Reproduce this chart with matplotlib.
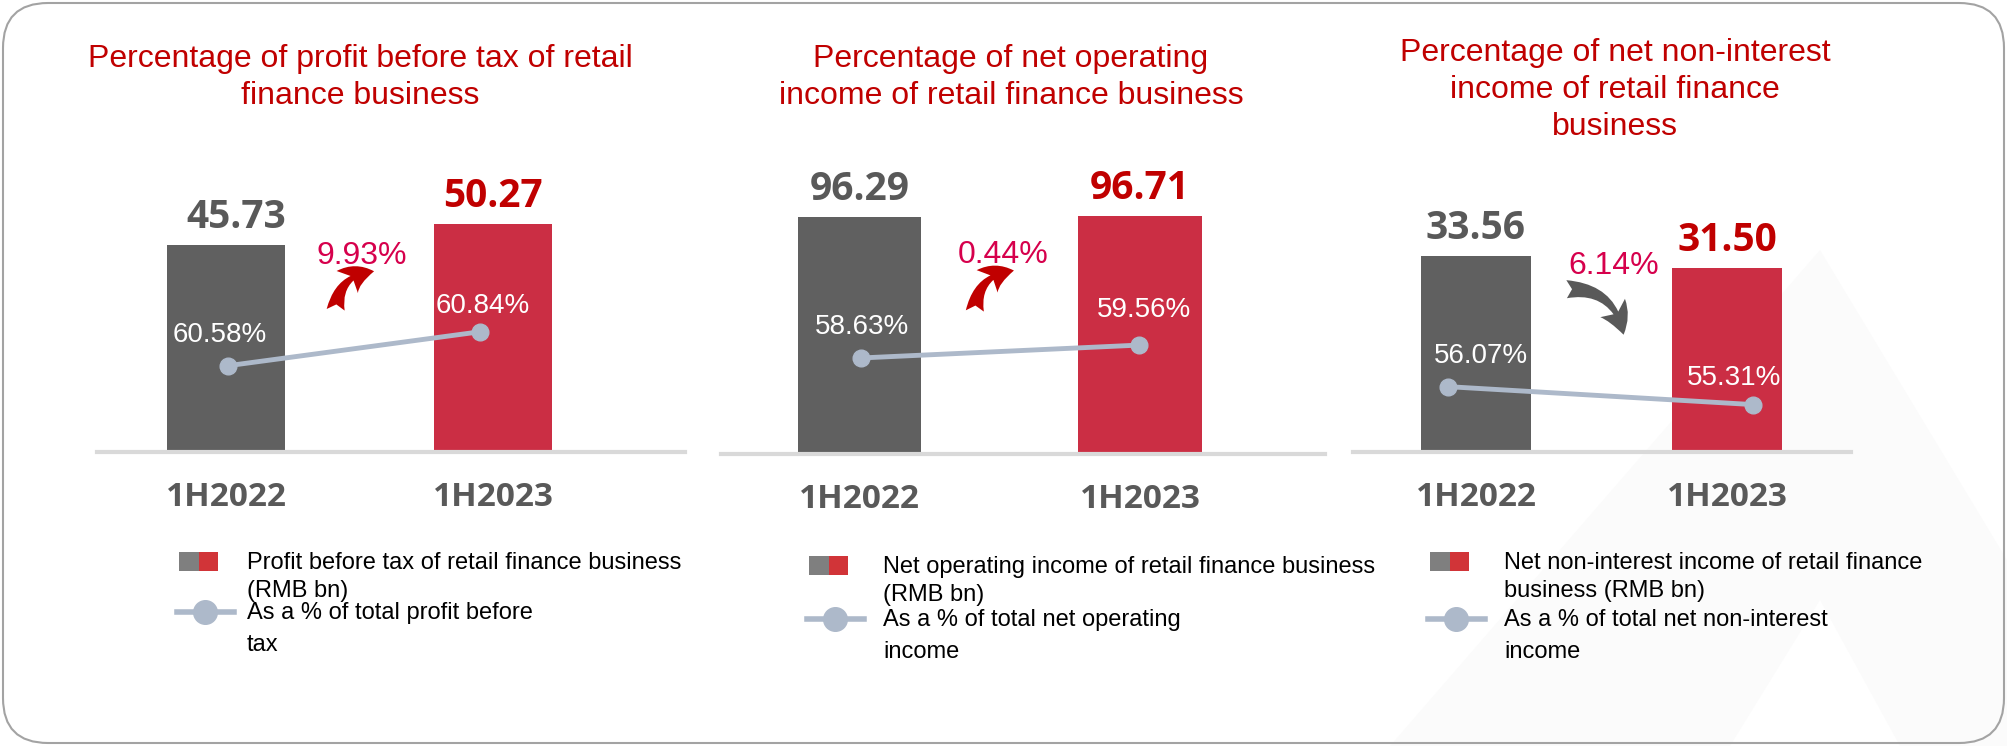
import matplotlib.pyplot as plt
import matplotlib.transforms as mtransforms
from matplotlib.patches import FancyBboxPatch, Rectangle, FancyArrowPatch, Polygon

plt.rcParams['font.family'] = ['Liberation Sans', 'DejaVu Sans']

periods = ['1H2022', '1H2023']

titles = [
    'Percentage of profit before tax of retail\nfinance business',
    'Percentage of net operating\nincome of retail finance business',
    'Percentage of net non-interest\nincome of retail finance\nbusiness',
]
amounts = [
    [45.73, 50.27],   # profit before tax, RMB bn
    [96.29, 96.71],   # net operating income, RMB bn
    [33.56, 31.50],   # net non-interest income, RMB bn
]
shares = [
    [60.58, 60.84],
    [58.63, 59.56],
    [56.07, 55.31],
]
bar_labels = [
    'Profit before tax of retail finance business\n(RMB bn)',
    'Net operating income of retail finance business\n(RMB bn)',
    'Net non-interest income of retail finance\nbusiness (RMB bn)',
]
line_labels = [
    'As a % of total profit before\ntax',
    'As a % of total net operating\nincome',
    'As a % of total net non-interest\nincome',
]

W, H = 2007, 746
GRAY, RED = '#606060', '#CB2E44'
LINE = '#ADB9CA'

# per-panel placement (pixels) and axis scaling
layout = [
    dict(x0=97, x1=685, base=452, xlim=(-0.483, 1.719), ylim=73.2,
         slim=(59.92, 62.46), lx=[0.007, 0.952], vdx=10,
         off=[(-8, 31), (3, 26)], gx=0.51, gy=0.59,
         arrow=((0.41, 0.42), (0.565, 0.545)), title=(360, 44),
         leg=(179, 247, 561, 614)),
    dict(x0=721, x1=1325, base=454, xlim=(-0.496, 1.661), ylim=135.7,
         slim=(51.70, 75.80), lx=[0.005, 0.998], vdx=0,
         off=[(1, 31), (5, 35)], gx=0.51, gy=0.596,
         arrow=((0.41, 0.42), (0.56, 0.55)), title=(1011, 44),
         leg=(809, 883, 565, 621)),
    dict(x0=1353, x1=1851, base=452, xlim=(-0.49, 1.494), ylim=56.9,
         slim=(53.30, 67.37), lx=[-0.112, 1.102], vdx=0,
         off=[(33, 31), (-19, 27)], gx=0.55, gy=0.56,
         arrow=((0.35, 0.49), (0.59, 0.345)), title=(1615, 38),
         leg=(1430, 1504, 561, 621)),
]
TOP = 120

fig = plt.figure(figsize=(W / 100, H / 100), dpi=100)

# background layer in pixel units: frame, faint watermark, titles, legends
bg = fig.add_axes([0, 0, 1, 1])
bg.set_xlim(0, W)
bg.set_ylim(H, 0)
bg.axis('off')
bg.add_patch(Polygon([[1390, 746], [1820, 250], [2007, 560], [2007, 746], [1900, 746],
                      [1820, 600], [1730, 746]], closed=True, color='#FBFBFB', lw=0))
bg.add_patch(FancyBboxPatch((3, 3), W - 6, H - 6, boxstyle='round,pad=0,rounding_size=45',
                            fc='none', ec='#A3A3A3', lw=1.5))

for i, lay in enumerate(layout):
    left = lay['x0'] / W
    width = (lay['x1'] - lay['x0']) / W
    bottom = 1 - lay['base'] / H
    height = (lay['base'] - TOP) / H
    ax = fig.add_axes([left, bottom, width, height])
    ax.patch.set_alpha(0)
    ax.set_xlim(*lay['xlim'])
    ax.set_ylim(0, lay['ylim'])
    for s in ax.spines.values():
        s.set_visible(False)
    ax.set_yticks([])
    ax.set_xticks([0, 1], periods)
    ax.tick_params(axis='x', length=0, pad=21, labelsize=24, labelcolor='#595959')
    for t in ax.get_xticklabels():
        t.set_fontfamily('Open Sans')
        t.set_fontweight('bold')

    vals = amounts[i]
    ax.bar([0, 1], vals, width=0.44, color=[GRAY, RED], zorder=2)
    ax.axhline(0, color='#D9D9D9', lw=3, zorder=3, clip_on=False)
    for k, v in enumerate(vals):
        ax.annotate(f'{v:.2f}', (k, v), xytext=(lay['vdx'] if k == 0 else 0, 8),
                    textcoords='offset pixels',
                    ha='center', va='bottom', fontsize=28, fontweight='bold',
                    family='Open Sans', color='#595959' if k == 0 else '#C00000')

    # year-on-year change between the two bars
    chg = (vals[1] / vals[0] - 1) * 100
    blend = mtransforms.blended_transform_factory(ax.transData, ax.transAxes)
    ax.text(lay['gx'], lay['gy'], f'{abs(chg):.2f}%', transform=blend,
            ha='center', va='center', fontsize=23, color='#D6004C')
    (ax0, ay0), (ax1, ay1) = lay['arrow']
    ax.add_patch(FancyArrowPatch((ax0, ay0), (ax1, ay1), transform=blend,
                                 connectionstyle='arc3,rad=-0.45',
                                 arrowstyle='fancy,head_length=0.8,head_width=0.85,tail_width=0.5',
                                 mutation_scale=26, lw=0,
                                 color='#C00000' if chg >= 0 else '#595959', zorder=4))

    # share of group total on its own scale
    ax2 = ax.twinx()
    ax2.set_ylim(*lay['slim'])
    ax2.axis('off')
    ax2.plot(lay['lx'], shares[i], color=LINE, lw=3.5, marker='o', ms=12,
             solid_capstyle='round', zorder=5)
    for k, v in enumerate(shares[i]):
        ax2.annotate(f'{v:.2f}%', (lay['lx'][k], v), xytext=lay['off'][k],
                     textcoords='offset pixels', ha='center', va='center',
                     fontsize=20, color='white')

    tx, ty = lay['title']
    bg.text(tx, ty, titles[i], ha='center', va='top', fontsize=23, color='#C00000',
            linespacing=1.3)

    # legend
    px, tx2, y1, y2 = lay['leg']
    bg.add_patch(Rectangle((px, y1 - 9), 20, 19, color='#7F7F7F', lw=0))
    bg.add_patch(Rectangle((px + 20, y1 - 9), 19, 19, color='#D13438', lw=0))
    bg.text(tx2, y1 - 9, bar_labels[i], ha='left', va='top', fontsize=17, linespacing=1.35)
    bg.plot([px - 2, px + 55], [y2 - 2, y2 - 2], color=LINE, lw=4)
    bg.plot([px + 26], [y2 - 2], marker='o', ms=17, color=LINE)
    bg.text(tx2, y2 - 12, line_labels[i], ha='left', va='top', fontsize=17, linespacing=1.6)

fig.savefig('out.png', dpi=100, facecolor='white')
